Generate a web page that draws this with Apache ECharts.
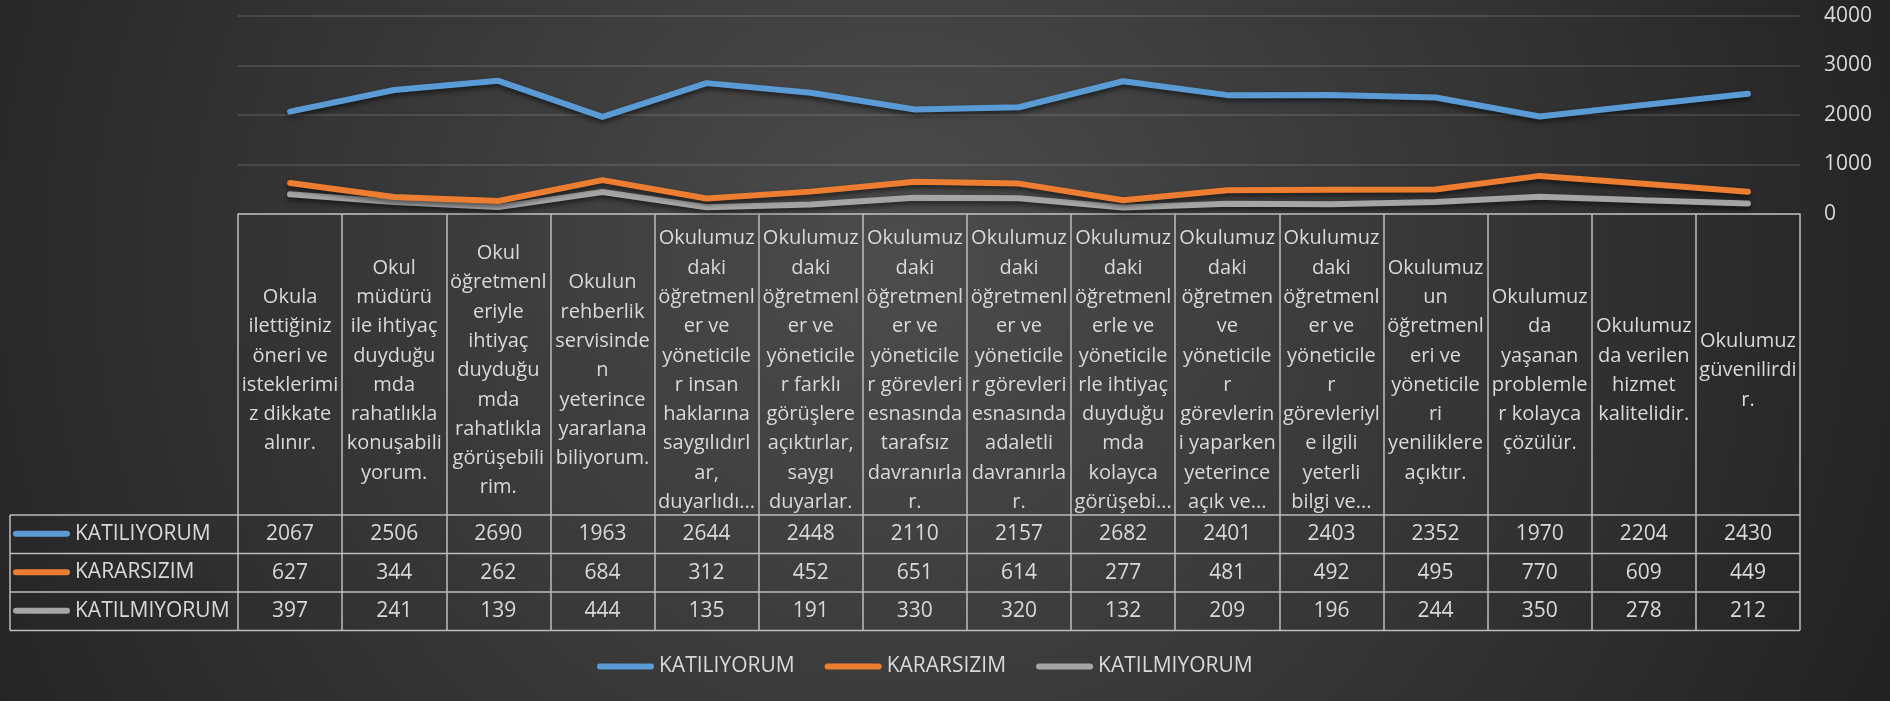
<!DOCTYPE html>
<html lang="tr">
<head>
<meta charset="UTF-8">
<title>Okul anketi</title>
<style>
  html, body { margin: 0; padding: 0; background: #2b2b2b; }
  #main { width: 1890px; height: 701px; }
</style>
</head>
<body>
<div id="main"></div>
<script src="https://cdn.jsdelivr.net/npm/echarts@6.0.0/dist/echarts.min.js"></script>
<script>
// soru metinleri, Excel'deki satır kırılımlarıyla
const categories = [
  'Okula\nilettiğiniz\nöneri ve\nisteklerimi\nz dikkate\nalınır.',
  'Okul\nmüdürü\nile ihtiyaç\nduyduğu\nmda\nrahatlıkla\nkonuşabili\nyorum.',
  'Okul\nöğretmenl\neriyle\nihtiyaç\nduyduğu\nmda\nrahatlıkla\ngörüşebili\nrim.',
  'Okulun\nrehberlik\nservisinde\nn\nyeterince\nyararlana\nbiliyorum.',
  'Okulumuz\ndaki\nöğretmenl\ner ve\nyöneticile\nr insan\nhaklarına\nsaygılıdırl\nar,\nduyarlıdı...',
  'Okulumuz\ndaki\nöğretmenl\ner ve\nyöneticile\nr farklı\ngörüşlere\naçıktırlar,\nsaygı\nduyarlar.',
  'Okulumuz\ndaki\nöğretmenl\ner ve\nyöneticile\nr görevleri\nesnasında\ntarafsız\ndavranırla\nr.',
  'Okulumuz\ndaki\nöğretmenl\ner ve\nyöneticile\nr görevleri\nesnasında\nadaletli\ndavranırla\nr.',
  'Okulumuz\ndaki\nöğretmenl\nerle ve\nyöneticile\nrle ihtiyaç\nduyduğu\nmda\nkolayca\ngörüşebi...',
  'Okulumuz\ndaki\nöğretmen\nve\nyöneticile\nr\ngörevlerin\ni yaparken\nyeterince\naçık ve...',
  'Okulumuz\ndaki\nöğretmenl\ner ve\nyöneticile\nr\ngörevleriyl\ne ilgili\nyeterli\nbilgi ve...',
  'Okulumuz\nun\nöğretmenl\neri ve\nyöneticile\nri\nyeniliklere\naçıktır.',
  'Okulumuz\nda\nyaşanan\nproblemle\nr kolayca\nçözülür.',
  'Okulumuz\nda verilen\nhizmet\nkalitelidir.',
  'Okulumuz\ngüvenilirdi\nr.'
];

const seriesNames = ['KATILIYORUM', 'KARARSIZIM', 'KATILMIYORUM'];
const katiliyorum = [2067, 2506, 2690, 1963, 2644, 2448, 2110, 2157, 2682, 2401, 2403, 2352, 1970, 2204, 2430];
const kararsizim = [627, 344, 262, 684, 312, 452, 651, 614, 277, 481, 492, 495, 770, 609, 449];
const katilmiyorum = [397, 241, 139, 444, 135, 191, 330, 320, 132, 209, 196, 244, 350, 278, 212];
const rows = [katiliyorum, kararsizim, katilmiyorum];
const colors = ['#5b9bd5', '#ed7d31', '#a5a5a5'];

// yerleşim
const W = 1890, H = 701;
const gridLeft = 238, gridRight = 90, gridTop = 16, gridBottomY = 214;
const headerH = 301, rowH = 38.5, tableLeft = 10;
const tableTop = gridBottomY + headerH;
const font = 'Open Sans';
const textColor = '#d9d9d9';
const borderColor = '#bdbdbd';
const capsule = 'path://M3,0H54A3,3,0,0,1,54,6H3A3,3,0,0,1,3,0Z';

var myChart = echarts.init(document.getElementById('main'));

var xAxes = [{
  type: 'category',
  data: categories,
  boundaryGap: true,
  axisLine: { show: true, lineStyle: { color: borderColor, width: 1.5 } },
  axisTick: { show: true, interval: 0, length: headerH + 3 * rowH, lineStyle: { color: borderColor, width: 1.5 } },
  axisLabel: {
    interval: 0, margin: headerH / 2 + 6, verticalAlign: 'middle', align: 'center',
    lineHeight: 29.3, fontSize: 20, color: textColor, fontFamily: font
  },
  splitLine: { show: false }
}];
rows.forEach(function (vals, i) {
  xAxes.push({
    type: 'category',
    data: vals.map(String),
    position: 'bottom',
    offset: headerH + i * rowH,
    axisLine: { show: false, onZero: false },
    axisTick: { show: false },
    axisLabel: {
      interval: 0, margin: rowH / 2, verticalAlign: 'middle', align: 'center',
      fontSize: 21, color: textColor, fontFamily: font
    },
    splitLine: { show: false }
  });
});

// tablo çizgileri (satır başlığı dahil)
var tableLines = [];
for (var i = 0; i <= 3; i++) {
  tableLines.push({
    type: 'line', silent: true,
    shape: { x1: tableLeft, y1: tableTop + i * rowH, x2: W - gridRight, y2: tableTop + i * rowH },
    style: { stroke: borderColor, lineWidth: 1.5 }
  });
}
tableLines.push({
  type: 'line', silent: true,
  shape: { x1: tableLeft, y1: tableTop, x2: tableLeft, y2: tableTop + 3 * rowH },
  style: { stroke: borderColor, lineWidth: 1.5 }
});

var rowLegends = seriesNames.map(function (n, i) {
  return {
    data: [n], orient: 'horizontal', left: tableLeft + 3, top: tableTop + i * rowH + rowH / 2 - 11,
    padding: 0, icon: capsule, itemWidth: 57, itemHeight: 6,
    itemStyle: { borderWidth: 0 },
    textStyle: { color: textColor, fontSize: 21, fontFamily: font }, selectedMode: false
  };
});

var option = {
  backgroundColor: {
    type: 'radial', x: 900, y: 260, r: 1050, global: true,
    colorStops: [{ offset: 0, color: '#4c4c4c' }, { offset: 1, color: '#232323' }]
  },
  animation: false,
  grid: {
    left: gridLeft, right: gridRight, top: gridTop, bottom: H - gridBottomY,
    containLabel: false, outerBoundsMode: 'none'
  },
  legend: [{
    data: seriesNames, left: 597, top: 656, padding: 0, itemGap: 30,
    icon: capsule, itemWidth: 57, itemHeight: 6, itemStyle: { borderWidth: 0 },
    textStyle: { color: textColor, fontSize: 21, fontFamily: font }
  }].concat(rowLegends),
  xAxis: xAxes,
  yAxis: {
    type: 'value', position: 'right', min: 0, max: 4000, interval: 1000,
    axisLine: { show: false }, axisTick: { show: false },
    splitLine: { lineStyle: { color: 'rgba(255,255,255,0.15)', width: 1.5 } },
    axisLabel: {
      margin: 24, align: 'left', fontSize: 21, color: textColor, fontFamily: font,
      formatter: function (v) { return String(v); }
    }
  },
  graphic: tableLines,
  series: seriesNames.map(function (n, i) {
    return {
      name: n, type: 'line', data: rows[i], symbol: 'none',
      itemStyle: { color: colors[i] },
      lineStyle: {
        color: colors[i], width: 6, cap: 'round',
        shadowColor: 'rgba(0,0,0,0.55)', shadowBlur: 5, shadowOffsetY: 3
      },
      z: 3 - i
    };
  })
};

myChart.setOption(option);
</script>
</body>
</html>
